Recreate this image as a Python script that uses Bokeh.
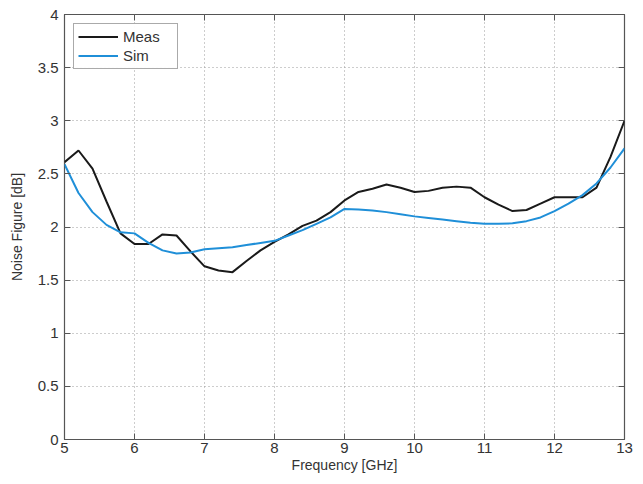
from bokeh.plotting import figure
from bokeh.models import LinearAxis, Legend, LegendItem, FixedTicker, Range1d
from bokeh.embed import file_html
from bokeh.resources import INLINE

freq = [5.0, 5.2, 5.4, 5.6, 5.8, 6.0, 6.2, 6.4, 6.6, 6.8, 7.0, 7.2, 7.4, 7.6, 7.8,
        8.0, 8.2, 8.4, 8.6, 8.8, 9.0, 9.2, 9.4, 9.6, 9.8, 10.0, 10.2, 10.4, 10.6,
        10.8, 11.0, 11.2, 11.4, 11.6, 11.8, 12.0, 12.2, 12.4, 12.6, 12.8, 13.0]
meas = [2.61, 2.72, 2.55, 2.24, 1.94, 1.84, 1.84, 1.93, 1.92, 1.77, 1.63, 1.59, 1.575,
        1.68, 1.78, 1.86, 1.93, 2.01, 2.06, 2.14, 2.25, 2.33, 2.36, 2.40, 2.37, 2.33,
        2.34, 2.37, 2.38, 2.37, 2.28, 2.21, 2.15, 2.16, 2.22, 2.28, 2.28, 2.28, 2.37,
        2.66, 3.0]
sim = [2.59, 2.32, 2.14, 2.02, 1.95, 1.94, 1.85, 1.78, 1.75, 1.76, 1.79, 1.80, 1.81,
       1.83, 1.85, 1.87, 1.92, 1.97, 2.03, 2.09, 2.17, 2.165, 2.155, 2.14, 2.12, 2.10,
       2.085, 2.07, 2.055, 2.04, 2.03, 2.03, 2.035, 2.055, 2.09, 2.15, 2.22, 2.30, 2.41,
       2.56, 2.74]
x_ticks = [5, 6, 7, 8, 9, 10, 11, 12, 13]
y_ticks = [0, 0.5, 1, 1.5, 2, 2.5, 3, 3.5, 4]
y_tick_labels = {0: "0", 0.5: "0.5", 1: "1", 1.5: "1.5", 2: "2", 2.5: "2.5", 3: "3", 3.5: "3.5", 4: "4"}

FONT = "Liberation Sans"
TXT = "#333333"

p = figure(width=635, height=476, output_backend="svg", toolbar_location=None,
           x_range=Range1d(5, 13), y_range=Range1d(0, 4),
           x_axis_label="Frequency [GHz]", y_axis_label="Noise Figure [dB]",
           min_border_left=64, min_border_right=11, min_border_top=14, min_border_bottom=37)
p.outline_line_color = "#555555"
p.outline_line_width = 1.2
p.background_fill_color = "white"
p.border_fill_color = "white"

for ax in p.xaxis + p.yaxis:
    ax.major_tick_in = 6
    ax.major_tick_out = 0
    ax.minor_tick_in = 0
    ax.minor_tick_out = 0
    ax.axis_line_color = None
    ax.major_tick_line_color = "#555555"
    ax.major_label_text_font = FONT
    ax.major_label_text_font_size = "15px"
    ax.major_label_text_color = TXT
    ax.axis_label_text_font = FONT
    ax.axis_label_text_font_size = "14px"
    ax.axis_label_text_font_style = "normal"
    ax.axis_label_text_color = TXT
p.xaxis.ticker = FixedTicker(ticks=x_ticks)
p.yaxis.ticker = FixedTicker(ticks=y_ticks)
p.yaxis.major_label_overrides = y_tick_labels
p.xaxis.major_label_standoff = 3
p.xaxis.axis_label_standoff = 1
p.yaxis.major_label_standoff = 6
p.yaxis.axis_label_standoff = 10

for loc, tk in (("above", x_ticks), ("right", y_ticks)):
    ax = LinearAxis(ticker=FixedTicker(ticks=tk), major_tick_in=6, major_tick_out=0,
                    minor_tick_in=0, minor_tick_out=0, axis_line_color=None,
                    major_tick_line_color="#555555",
                    major_label_overrides={t: "" for t in tk},
                    major_label_text_font_size="2px", major_label_standoff=0)
    p.add_layout(ax, loc)

p.xgrid.ticker = FixedTicker(ticks=x_ticks)
p.ygrid.ticker = FixedTicker(ticks=y_ticks)
for g in (p.xgrid[0], p.ygrid[0]):
    g.grid_line_color = "#9a9a9a"
    g.grid_line_dash = "1 3"
    g.grid_line_width = 1

r_meas = p.line(freq, meas, line_color="#1a1a1a", line_width=2)
r_sim = p.line(freq, sim, line_color="#1f8fd8", line_width=2)

legend = Legend(items=[LegendItem(label="Meas", renderers=[r_meas]),
                       LegendItem(label="Sim", renderers=[r_sim])],
                location="top_left")
legend.label_text_font = FONT
legend.label_text_font_size = "15px"
legend.label_text_color = TXT
legend.border_line_color = "#555555"
legend.border_line_width = 1
legend.margin = 9
legend.padding = 4
legend.spacing = 2
legend.glyph_width = 40
legend.label_width = 50
legend.label_height = 17
legend.glyph_height = 17
p.add_layout(legend)

open("out.html", "w").write(file_html(p, INLINE))
